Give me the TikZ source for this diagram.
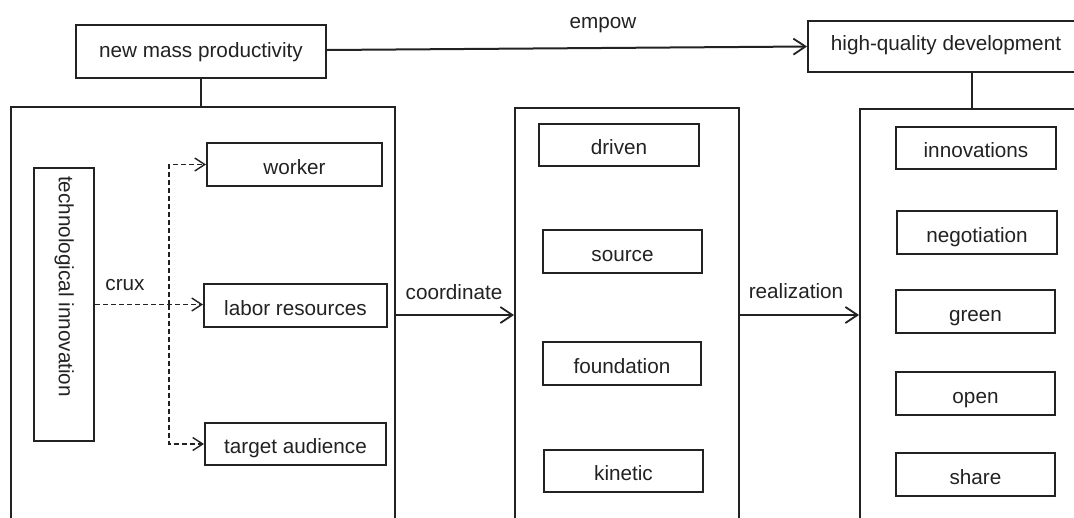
\documentclass[tikz,border=0pt]{standalone}
\usepackage{fontspec}
\setmainfont{Liberation Sans}
\usetikzlibrary{arrows.meta}
\definecolor{ink}{HTML}{222222}
\begin{document}
\begin{tikzpicture}[x=1pt,y=-1pt,
  every node/.style={font=\fontsize{20.7}{24}\selectfont, text=ink},
  box/.style={draw=ink, line width=2pt, inner sep=0pt, minimum height=43pt, text height=23pt, text depth=4pt},
  big/.style={draw=ink, line width=2pt, inner sep=0pt},
  conn/.style={draw=ink, line width=2pt},
  arr/.style={conn, -{Straight Barb[length=12pt,width=16pt,line width=1.8pt]}},
  darr/.style={draw=ink, line width=1.4pt, dash pattern=on 5pt off 3pt, -{Straight Barb[length=10pt,width=13pt,line width=1.4pt]}},
  lbl/.style={inner sep=0pt, text height=14.5pt, text depth=4.3pt}
]
\useasboundingbox (0,0) rectangle (1074,517);
\clip (0,0) rectangle (1074,517);
\fill[white] (0,0) rectangle (1074,517);

% top boxes
\node[box, minimum width=250pt, minimum height=53pt, text height=15pt, text depth=4pt] (nmp) at (201,51.5) {new mass productivity};
\node[box, minimum width=276pt, minimum height=51pt, text height=11pt, text depth=4pt] (hq) at (946,46.5) {high-quality development};

% big containers (bottoms run off the page)
\node[big, minimum width=384pt, minimum height=416pt] (bigL) at (203,315) {};
\node[big, minimum width=224pt, minimum height=414pt] (bigM) at (627,315) {};
\node[big, minimum width=224pt, minimum height=412pt] (bigR) at (972,315) {};

% left column
\node[big, minimum width=60pt, minimum height=273pt] (tech) at (64,304.5) {};
\node[lbl, rotate=-90] (techtxt) at (64,286.5) {technological innovation};
\node[box, minimum width=175pt] (worker) at (294.5,164.5) {worker};
\node[box, minimum width=183pt] (labor) at (295.5,305.5) {labor resources};
\node[box, minimum width=181pt, minimum height=42pt] (target) at (295.5,444) {target audience};

% middle column
\node[box, minimum width=160pt, minimum height=42pt] (driven) at (619,145) {driven};
\node[box, minimum width=159pt] (source) at (622.5,251.5) {source};
\node[box, minimum width=158pt] (foundation) at (622,363.5) {foundation};
\node[box, minimum width=159pt, minimum height=42pt] (kinetic) at (623.5,471) {kinetic};

% right column
\node[box, minimum width=160pt, minimum height=42pt] (innov) at (976,148) {innovations};
\node[box, minimum width=160pt] (nego) at (977,232.5) {negotiation};
\node[box, minimum width=159pt] (green) at (975.5,311.5) {green};
\node[box, minimum width=159pt] (open) at (975.5,393.5) {open};
\node[box, minimum width=159pt] (share) at (975.5,474.5) {share};

% labels
\node[lbl] (empow) at (603,23) {empow};
\node[lbl] (crux) at (125,285) {crux};
\node[lbl] (coord) at (454,294) {coordinate};
\node[lbl] (real) at (796,293) {realization};

% connectors
\draw[arr] ([yshift=1.5pt]nmp.east) -- (hq.west);
\draw[conn] (nmp.south) -- (nmp.south |- bigL.north);
\draw[conn] (bigR.north) -- (bigR.north |- hq.south);
\draw[arr] (bigL.east) -- (bigM.west);
\draw[arr] (bigM.east) -- (bigR.west);

\coordinate (jn) at (169,0);
\draw[darr] (tech.east) -- (labor.west |- tech.east);
\draw[darr] (jn |- tech.east) |- (worker.west);
\draw[darr] (jn |- tech.east) |- (target.west);
\end{tikzpicture}
\end{document}
